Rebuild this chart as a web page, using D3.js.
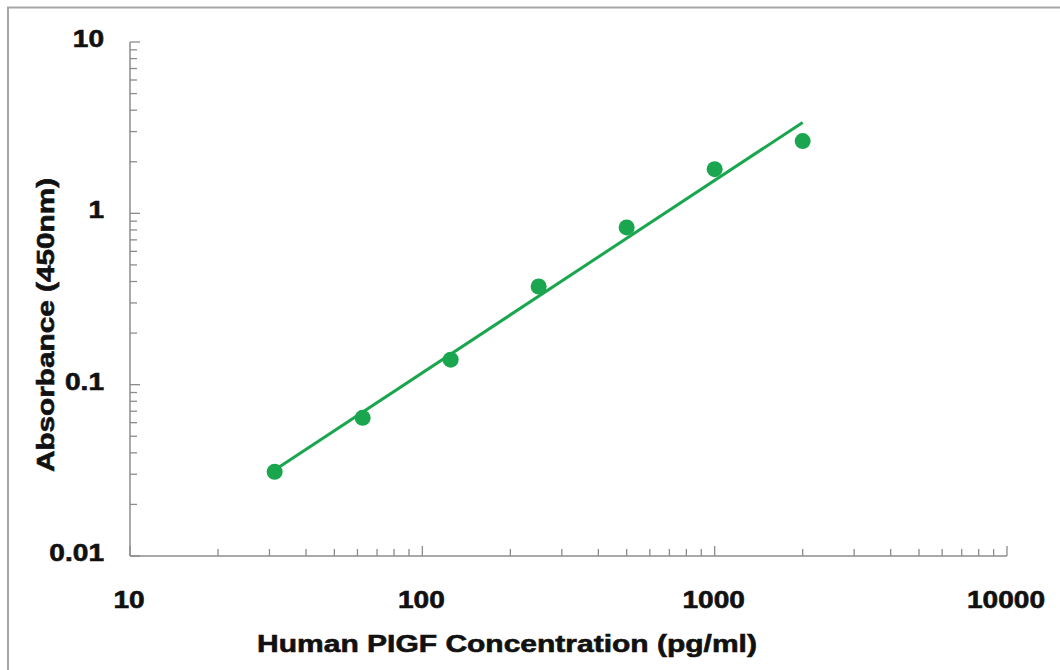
<!DOCTYPE html>
<html>
<head>
<meta charset="utf-8">
<script src="https://cdn.jsdelivr.net/npm/d3@7"></script>
<style>
  html, body { margin: 0; padding: 0; background: #fff; }
  svg { display: block; }
  text { font-family: "Liberation Sans", Arial, sans-serif; font-weight: bold; fill: #111; stroke: #111; stroke-width: 0.6px; }
</style>
</head>
<body>
<svg id="chart" width="1060" height="670"></svg>
<script>
// Data
const concentrations = [31.25, 62.5, 125, 250, 500, 1000, 2000];
const absorbance = [0.031, 0.064, 0.14, 0.374, 0.828, 1.81, 2.64];
const xTickValues = [10, 100, 1000, 10000];
const yTickValues = [0.01, 0.1, 1, 10];
const xTitle = "Human PIGF Concentration (pg/ml)";
const yTitle = "Absorbance (450nm)";

const svg = d3.select("#chart");
const W = 1060, H = 670;
const green = "#1aa64f";
const axisColor = "#8c8c8c";

// outer border
svg.append("rect").attr("x", 8).attr("y", 7.5).attr("width", W + 10).attr("height", H + 10)
  .attr("fill", "none").attr("stroke", "#a6a6a6").attr("stroke-width", 2);

const x = d3.scaleLog().domain([10, 10000]).range([130, 1007]);
const y = d3.scaleLog().domain([0.01, 10]).range([556, 42]);

// minor ticks
const xMinor = [], yMinor = [];
for (let d = 10; d < 10000; d *= 10) for (let k = 2; k <= 9; k++) xMinor.push(d * k);
for (let d = 0.01; d < 9; d *= 10) for (let k = 2; k <= 9; k++) yMinor.push(+(d * k).toPrecision(3));

const g = svg.append("g");

// X axis
const xAxis = g.append("g").attr("transform", `translate(0,${y(0.01)})`);
xAxis.append("line").attr("x1", x(10)).attr("x2", x(10000)).attr("stroke", axisColor).attr("stroke-width", 1.5);
xAxis.selectAll("line.minor").data(xMinor).join("line").attr("class", "minor")
  .attr("x1", d => x(d)).attr("x2", d => x(d)).attr("y1", 0).attr("y2", -7)
  .attr("stroke", axisColor).attr("stroke-width", 1.3);
xAxis.selectAll("line.major").data(xTickValues).join("line").attr("class", "major")
  .attr("x1", d => x(d)).attr("x2", d => x(d)).attr("y1", 0).attr("y2", -10)
  .attr("stroke", axisColor).attr("stroke-width", 1.3);
xAxis.selectAll("g.lbl").data(xTickValues).join("g").attr("class", "lbl")
  .attr("transform", d => `translate(${x(d) - 1},52) scale(1.17,1)`)
  .append("text").attr("text-anchor", "middle")
  .style("font-size", "24px")
  .text(d => d);

// Y axis
const yAxis = g.append("g").attr("transform", `translate(${x(10)},0)`);
yAxis.append("line").attr("y1", y(0.01)).attr("y2", y(10)).attr("stroke", axisColor).attr("stroke-width", 1.5);
yAxis.selectAll("line.minor").data(yMinor).join("line").attr("class", "minor")
  .attr("y1", d => y(d)).attr("y2", d => y(d)).attr("x1", 0).attr("x2", 7)
  .attr("stroke", axisColor).attr("stroke-width", 1.3);
yAxis.selectAll("line.major").data(yTickValues).join("line").attr("class", "major")
  .attr("y1", d => y(d)).attr("y2", d => y(d)).attr("x1", 0).attr("x2", 10)
  .attr("stroke", axisColor).attr("stroke-width", 1.3);
yAxis.selectAll("g.lbl").data(yTickValues).join("g").attr("class", "lbl")
  .attr("transform", d => `translate(-26,${y(d) + 5}) scale(1.17,1)`)
  .append("text").attr("text-anchor", "end")
  .style("font-size", "24px")
  .text(d => d);

// Power trendline via least squares in log-log space
const lx = concentrations.map(Math.log10), ly = absorbance.map(Math.log10);
const mx = d3.mean(lx), my = d3.mean(ly);
const b = d3.sum(lx.map((v, i) => (v - mx) * (ly[i] - my))) / d3.sum(lx.map(v => (v - mx) ** 2));
const a = my - b * mx;
const fit = c => Math.pow(10, a + b * Math.log10(c));
const ends = [d3.min(concentrations), d3.max(concentrations)];
g.append("path")
  .attr("d", d3.line().x(d => x(d)).y(d => y(fit(d)))(ends))
  .attr("stroke", green).attr("stroke-width", 3).attr("fill", "none");

// points
g.selectAll("circle").data(concentrations).join("circle")
  .attr("cx", d => x(d)).attr("cy", (d, i) => y(absorbance[i])).attr("r", 8)
  .attr("fill", green);

// titles
svg.append("g").attr("transform", "translate(507,652) scale(1.25,1)")
  .append("text").attr("text-anchor", "middle")
  .style("font-size", "24px").text(xTitle);
svg.append("g").attr("transform", "translate(54,325) rotate(-90) scale(1.24,1)")
  .append("text").attr("text-anchor", "middle")
  .style("font-size", "24px").text(yTitle);
</script>
</body>
</html>
